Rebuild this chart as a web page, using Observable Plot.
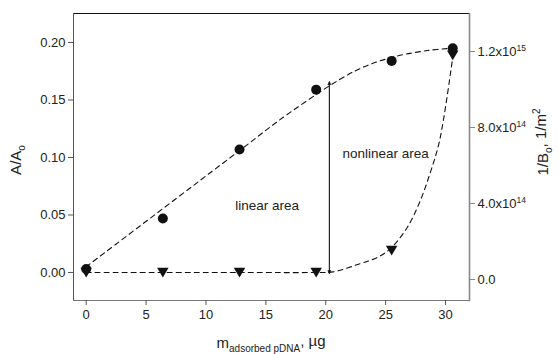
<!DOCTYPE html>
<html>
<head>
<meta charset="utf-8">
<script src="https://cdn.jsdelivr.net/npm/d3@7"></script>
<script src="https://cdn.jsdelivr.net/npm/@observablehq/plot@0.6"></script>
<style>
  html, body { margin: 0; padding: 0; background: #fff; }
  #chart svg { display: block; }
</style>
</head>
<body>
<div id="chart"></div>
<script>
// Measured points: adsorbed pDNA mass (µg), relative absorbance, inverse of B_o (1/m²)
const mass = [0, 6.4, 12.8, 19.2, 25.5, 30.6];
const ratioA = [0.003, 0.047, 0.107, 0.159, 0.184, 0.195];
const invB = [3.7e13, 3.7e13, 3.7e13, 3.7e13, 1.53e14, 1.18e15];

// Dashed guide curves
const fitAx = [0, 12.8, 17.0, 22.4, 25.5, 28.5, 30.6];
const fitAy = [0.005, 0.106, 0.139, 0.175, 0.187, 0.193, 0.195];
const fitBx = [0, 12.8, 19.2, 20.6, 22.9, 24.3, 25.4, 26.8, 27.9, 28.7, 29.5, 30.6];
const fitBy = [3.7e13, 3.7e13, 3.7e13, 4.0e13, 8.4e13, 1.16e14, 1.63e14, 2.74e14, 4.16e14, 5.58e14, 7.3e14, 1.17e15];

// Axis ticks
const xTicks = [0, 5, 10, 15, 20, 25, 30];
const leftTicks = [0, 0.05, 0.10, 0.15, 0.20];
const rightTicks = [0, 4e14, 8e14, 1.2e15];
const rightLabels = ["0.0", "4.0x10^14", "8.0x10^14", "1.2x10^15"];

// Boundary between the two regimes
const splitX = 20.3;
const splitY = [0.0, 0.165];

// Annotations
const notes = [
  {x: 15.1, y: 0.058, text: "linear area"},
  {x: 25.0, y: 0.1035, text: "nonlinear area"}
];

const leftDomain = [-0.02435, 0.22522];
const rightDomain = [-1.105e14, 1.4e15];
const toLeft = d3.scaleLinear().domain(rightDomain).range(leftDomain);

const points = mass.map((m, i) => ({m, a: ratioA[i], b: toLeft(invB[i])}));
const fitA = fitAx.map((x, i) => ({x, y: fitAy[i]}));
const fitB = fitBx.map((x, i) => ({x, y: toLeft(fitBy[i])}));

const triangleDown = {
  draw(ctx, size) {
    const r = Math.sqrt(size / Math.PI);
    ctx.moveTo(-r * 1.15, -r * 0.95);
    ctx.lineTo(r * 1.15, -r * 0.95);
    ctx.lineTo(0, r * 1.0);
    ctx.closePath();
  }
};

// Small filled arrowhead for the regime boundary
const smallHead = (color, context) => {
  const m = context.document.createElementNS("http://www.w3.org/2000/svg", "marker");
  m.setAttribute("viewBox", "-5 -5 10 10");
  m.setAttribute("markerWidth", 5);
  m.setAttribute("markerHeight", 5);
  m.setAttribute("orient", "auto-start-reverse");
  m.setAttribute("markerUnits", "userSpaceOnUse");
  const p = context.document.createElementNS("http://www.w3.org/2000/svg", "path");
  p.setAttribute("d", "M-4,-3L3,0L-4,3Z");
  p.setAttribute("fill", color);
  m.append(p);
  return m;
};

const rightLabelFor = v => {
  const r = toLeft.invert(v);
  let best = 0;
  rightTicks.forEach((t, i) => { if (Math.abs(t - r) < Math.abs(rightTicks[best] - r)) best = i; });
  return rightLabels[best];
};

const font = "'Liberation Sans', Arial, sans-serif";
const dash = "5,4";

const svg = Plot.plot({
  width: 559,
  height: 354,
  marginLeft: 73,
  marginRight: 90,
  marginTop: 13,
  marginBottom: 54,
  style: {fontFamily: font, fontSize: "13px", color: "#222", background: "#fff"},
  x: {domain: [-1.06, 32.0], axis: null},
  y: {domain: leftDomain, axis: null},
  marks: [
    Plot.frame({anchor: "top", stroke: "#111"}),
    Plot.frame({anchor: "left", stroke: "#555"}),
    Plot.frame({anchor: "bottom", stroke: "#777"}),
    Plot.frame({anchor: "right", stroke: "#888", strokeWidth: 1.6}),
    Plot.axisX(xTicks, {anchor: "bottom", tickSize: 5, tickPadding: 4, fontSize: 13, label: null, stroke: "#555", fill: "#222"}),
    Plot.axisY(leftTicks, {anchor: "left", tickSize: 5, tickPadding: 3, fontSize: 13, label: null, tickFormat: d3.format(".2f"), stroke: "#555", fill: "#222"}),
    Plot.axisY(rightTicks.map(toLeft), {anchor: "right", tickSize: 5, tickPadding: 3, fontSize: 13, label: null, tickFormat: rightLabelFor, stroke: "#888", fill: "#222"}),
    Plot.line(fitA, {x: "x", y: "y", curve: "catmull-rom", stroke: "#111", strokeWidth: 1.1, strokeDasharray: dash}),
    Plot.line(fitB, {x: "x", y: "y", curve: "catmull-rom", stroke: "#111", strokeWidth: 1.1, strokeDasharray: dash}),
    Plot.link([{x: splitX, y1: splitY[0], y2: splitY[1]}], {x1: "x", x2: "x", y1: "y1", y2: "y2", stroke: "#111", strokeWidth: 1.1, markerStart: smallHead, markerEnd: smallHead}),
    Plot.dot(points, {x: "m", y: "a", r: 5, fill: "#111", stroke: "none", symbol: "circle"}),
    Plot.dot(points, {x: "m", y: "b", r: 5, fill: "#111", stroke: "none", symbol: triangleDown}),
    Plot.text(notes, {x: "x", y: "y", text: "text", fontSize: 13.5, fill: "#222", textAnchor: "middle"})
  ]
});

const root = d3.select(svg);

// Superscript exponents in the right-hand tick labels
root.selectAll("text").each(function () {
  const t = this.textContent;
  if (t.includes("^")) {
    const [base, exp] = t.split("^");
    const sel = d3.select(this);
    sel.text(null);
    sel.append("tspan").text(base);
    sel.append("tspan").attr("dy", "-0.55em").attr("font-size", "8.5px").text(exp);
  }
});

// Axis titles with sub/superscripts
const titles = root.append("g").attr("font-family", font).attr("fill", "#222");

const yl = titles.append("text")
  .attr("transform", "translate(21,160) rotate(-90)")
  .attr("text-anchor", "middle").attr("font-size", "15px");
yl.append("tspan").text("A/A");
yl.append("tspan").attr("font-size", "10px").attr("dy", "0.35em").text("o");

const yr = titles.append("text")
  .attr("transform", "translate(548,142) rotate(-90)")
  .attr("text-anchor", "middle").attr("font-size", "15px");
yr.append("tspan").text("1/B");
yr.append("tspan").attr("font-size", "10px").attr("dy", "0.35em").text("o");
yr.append("tspan").attr("dy", "-0.35em").text(", 1/m");
yr.append("tspan").attr("font-size", "10px").attr("dy", "-0.6em").text("2");

const xl = titles.append("text")
  .attr("transform", "translate(271,348)")
  .attr("text-anchor", "middle").attr("font-size", "15px");
xl.append("tspan").text("m");
xl.append("tspan").attr("font-size", "10px").attr("dy", "0.35em").text("adsorbed pDNA");
xl.append("tspan").attr("dy", "-0.35em").text(", \u00b5g");

document.getElementById("chart").append(svg);
</script>
</body>
</html>
